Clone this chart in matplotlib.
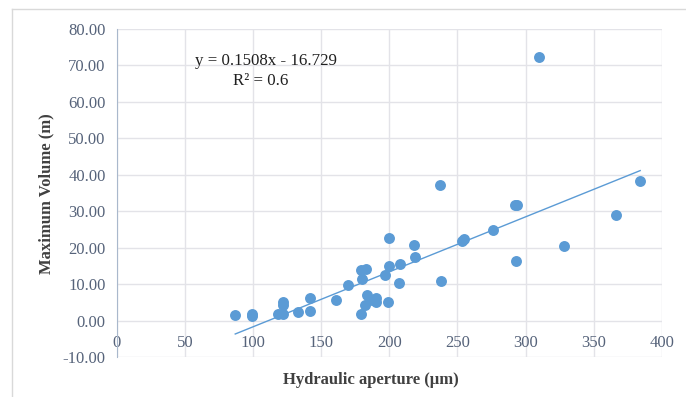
import numpy as np
import matplotlib.pyplot as plt
from matplotlib.lines import Line2D

# Hydraulic aperture (um) and maximum volume (m)
aperture = [87, 99, 99, 118, 122, 122, 122, 133, 142, 142, 161, 170, 179, 180,
            183, 179, 182, 184, 187, 190, 190, 197, 199, 200, 200, 208, 207,
            218, 219, 237, 238, 253, 255, 276, 292, 294, 293, 310, 328, 366, 384]
volume = [1.6, 1.2, 2.0, 1.8, 5.2, 4.3, 2.0, 2.5, 6.3, 2.7, 5.7, 9.8, 13.9, 11.4,
          14.3, 1.8, 4.2, 7.2, 5.7, 6.3, 5.2, 12.6, 5.2, 22.8, 15.1, 15.6, 10.3,
          20.9, 17.6, 37.3, 11.0, 22.0, 22.4, 25.0, 31.7, 31.7, 16.5, 72.4, 20.5,
          28.9, 38.3]

slope = 0.1508
intercept = -16.729
equation = "y = 0.1508x - 16.729"
r2_text = "R\u00b2 = 0.6"

x_ticks = [0, 50, 100, 150, 200, 250, 300, 350, 400]
y_ticks = [-10, 0, 10, 20, 30, 40, 50, 60, 70, 80]

blue = "#5B9BD5"
serif = ["Liberation Serif", "DejaVu Serif"]

fig = plt.figure(figsize=(6.86, 3.97), dpi=100)
ax = fig.add_axes([0.170, 0.100, 0.795, 0.827])

# outer chart border (left and top visible)
fig.add_artist(Line2D([12 / 686, 12 / 686], [0, 1 - 9 / 397], color="#D9D9D9", lw=1))
fig.add_artist(Line2D([12 / 686, 1], [1 - 9 / 397, 1 - 9 / 397], color="#D9D9D9", lw=1))

ax.scatter(aperture, volume, s=62, color=blue, zorder=3, linewidths=0)

xs = np.array([min(aperture), max(aperture)])
ax.plot(xs, slope * xs + intercept, color=blue, lw=1, zorder=2)

ax.set_xlim(0, 400)
ax.set_ylim(-10, 80)
ax.set_xticks(x_ticks)
ax.set_yticks(y_ticks)
ax.set_xticklabels([str(t) for t in x_ticks])
ax.set_yticklabels([f"{t:.2f}" for t in y_ticks])
ax.grid(True, color="#E3E3E8", lw=1)
ax.set_axisbelow(True)

for side in ["top", "right"]:
    ax.spines[side].set_visible(False)
ax.spines["bottom"].set_position(("data", 0))
ax.spines["bottom"].set_visible(False)
ax.spines["left"].set_color("#A9B8CC")
ax.tick_params(length=0, labelsize=12, labelcolor="#56637A")
ax.tick_params(axis="x", pad=10)
ax.tick_params(axis="y", pad=8)
for lab in ax.get_xticklabels() + ax.get_yticklabels():
    lab.set_family(serif)

ax.set_ylabel("Maximum Volume (m)", family=serif, fontsize=12, fontweight="bold",
              color="#404040", labelpad=6)
fig.text(0.54, 0.043, "Hydraulic aperture (\u03bcm)", family=serif, fontsize=12,
         fontweight="bold", color="#404040", ha="center", va="center")

ax.text(0.274, 0.902, equation, transform=ax.transAxes, family=serif, fontsize=12.2,
        ha="center", va="center", color="#202020")
ax.text(0.265, 0.841, r2_text, transform=ax.transAxes, family=serif, fontsize=12.2,
        ha="center", va="center", color="#202020")

fig.savefig("out.png", dpi=100)
